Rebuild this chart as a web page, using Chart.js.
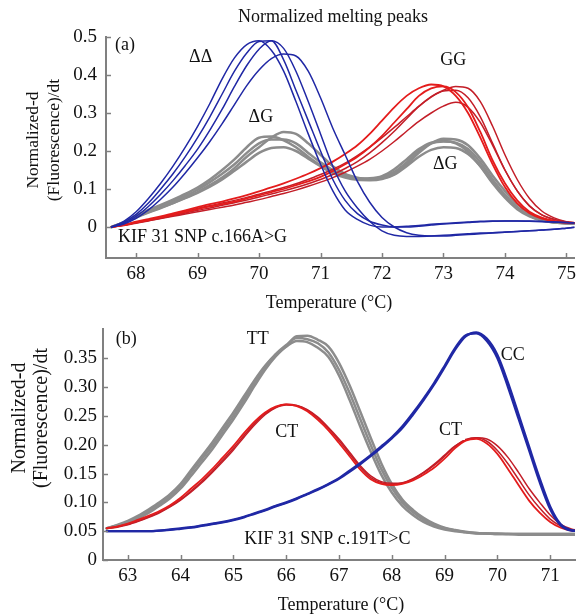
<!DOCTYPE html>
<html><head><meta charset="utf-8">
<script src="https://cdn.jsdelivr.net/npm/chart.js@4.4.0/dist/chart.umd.min.js"></script>
<style>
html,body{margin:0;padding:0;background:#fff;}
#wrap{position:relative;width:581px;height:615px;overflow:hidden;background:#fff;}
#c1{position:absolute;left:0;top:0;}
#c2{position:absolute;left:0;top:312px;}
</style></head><body>
<div id="wrap">
<canvas id="c1" width="581" height="312"></canvas>
<canvas id="c2" width="581" height="303"></canvas>
</div>
<script>
// ---------- Panel (a) data ----------
const topTemperature = [67.6,67.8,68.0,68.2,68.4,68.6,68.8,69.0,69.2,69.4,69.6,69.8,70.0,70.2,70.4,70.6,70.8,71.0,71.2,71.4,71.6,71.8,72.0,72.2,72.4,72.6,72.8,73.0,73.2,73.4,73.6,73.8,74.0,74.2,74.4,74.6,74.8,75.0,75.2];
const blueDD1 = [0.0,0.015,0.04,0.075,0.115,0.16,0.21,0.265,0.325,0.39,0.445,0.48,0.49,0.465,0.41,0.33,0.245,0.165,0.095,0.045,0.02,0.005,0.0,0.0,0.002,0.004,0.007,0.009,0.011,0.013,0.015,0.016,0.016,0.016,0.015,0.014,0.013,0.012,0.01];
const blueDD2 = [0.0,0.012,0.033,0.063,0.1,0.14,0.185,0.235,0.29,0.35,0.41,0.458,0.488,0.49,0.44,0.36,0.28,0.2,0.125,0.07,0.035,0.015,0.005,0.0,0.0,0.002,0.005,0.008,0.01,0.012,0.014,0.015,0.016,0.016,0.016,0.015,0.013,0.012,0.01];
const blueDD3 = [0.0,0.01,0.028,0.054,0.086,0.122,0.162,0.205,0.255,0.31,0.37,0.425,0.468,0.49,0.47,0.41,0.33,0.245,0.16,0.095,0.05,0.015,-0.01,-0.022,-0.025,-0.025,-0.024,-0.022,-0.02,-0.018,-0.016,-0.015,-0.013,-0.012,-0.01,-0.008,-0.006,-0.003,0.0];
const blueDD4 = [0.0,0.008,0.023,0.045,0.073,0.105,0.142,0.182,0.225,0.272,0.322,0.372,0.413,0.443,0.455,0.45,0.41,0.34,0.26,0.19,0.12,0.065,0.025,0.0,-0.015,-0.022,-0.024,-0.024,-0.022,-0.02,-0.018,-0.016,-0.014,-0.012,-0.01,-0.008,-0.006,-0.003,0.0];
const grayDG1 = [0.0,0.012,0.028,0.042,0.055,0.068,0.082,0.098,0.118,0.14,0.165,0.195,0.22,0.23,0.23,0.22,0.195,0.17,0.15,0.135,0.128,0.127,0.13,0.145,0.17,0.2,0.22,0.225,0.222,0.205,0.17,0.125,0.085,0.052,0.03,0.018,0.012,0.01,0.008];
const grayDG2 = [0.0,0.01,0.025,0.038,0.05,0.063,0.077,0.092,0.11,0.13,0.155,0.185,0.21,0.235,0.25,0.245,0.22,0.19,0.16,0.14,0.13,0.125,0.128,0.14,0.165,0.195,0.22,0.232,0.23,0.215,0.18,0.135,0.095,0.06,0.035,0.02,0.013,0.01,0.008];
const grayDG3 = [0.0,0.011,0.026,0.039,0.051,0.063,0.076,0.09,0.106,0.125,0.148,0.172,0.195,0.208,0.21,0.2,0.18,0.16,0.142,0.13,0.124,0.123,0.126,0.138,0.16,0.185,0.203,0.21,0.208,0.192,0.16,0.118,0.08,0.05,0.03,0.018,0.012,0.01,0.008];
const grayDG4 = [0.0,0.013,0.03,0.045,0.058,0.072,0.087,0.104,0.125,0.15,0.178,0.21,0.235,0.238,0.228,0.21,0.185,0.162,0.145,0.133,0.127,0.128,0.134,0.152,0.178,0.205,0.222,0.226,0.22,0.198,0.16,0.115,0.077,0.047,0.028,0.017,0.012,0.01,0.008];
const redGG1 = [0.0,0.005,0.012,0.018,0.025,0.032,0.04,0.047,0.054,0.06,0.067,0.075,0.083,0.092,0.1,0.11,0.12,0.132,0.147,0.165,0.185,0.21,0.24,0.275,0.31,0.345,0.365,0.37,0.355,0.315,0.25,0.175,0.115,0.07,0.04,0.025,0.016,0.012,0.01];
const redGG2 = [0.0,0.006,0.014,0.021,0.028,0.036,0.044,0.052,0.06,0.067,0.075,0.084,0.094,0.104,0.115,0.127,0.14,0.155,0.172,0.192,0.215,0.245,0.28,0.315,0.345,0.365,0.375,0.37,0.345,0.3,0.235,0.165,0.105,0.062,0.036,0.022,0.015,0.011,0.01];
const redGG3 = [0.0,0.005,0.011,0.017,0.023,0.03,0.037,0.044,0.05,0.057,0.064,0.071,0.079,0.087,0.095,0.104,0.114,0.125,0.138,0.154,0.172,0.195,0.222,0.252,0.285,0.317,0.342,0.358,0.36,0.34,0.29,0.22,0.15,0.095,0.055,0.032,0.02,0.013,0.01];
const redGG4 = [0.0,0.004,0.01,0.016,0.022,0.028,0.034,0.04,0.046,0.052,0.058,0.065,0.072,0.08,0.088,0.097,0.107,0.118,0.13,0.144,0.16,0.178,0.2,0.225,0.252,0.278,0.3,0.318,0.328,0.315,0.275,0.215,0.15,0.095,0.056,0.032,0.02,0.013,0.01];
const redGG5 = [0.0,0.005,0.012,0.019,0.026,0.033,0.041,0.049,0.056,0.063,0.07,0.078,0.086,0.095,0.104,0.114,0.125,0.138,0.152,0.168,0.188,0.21,0.235,0.262,0.29,0.318,0.343,0.36,0.37,0.365,0.33,0.265,0.19,0.125,0.075,0.042,0.024,0.014,0.01];
const xTicksTop = [68,69,70,71,72,73,74,75];
const yTicksTop = [0,0.1,0.2,0.3,0.4,0.5];
const yLabelsTop = ['0','0.1','0.2','0.3','0.4','0.5'];

// ---------- Panel (b) data ----------
const bottomTemperature = [62.6,62.8,63.0,63.2,63.4,63.6,63.8,64.0,64.2,64.4,64.6,64.8,65.0,65.2,65.4,65.6,65.8,66.0,66.2,66.4,66.6,66.8,67.0,67.2,67.4,67.6,67.8,68.0,68.2,68.4,68.6,68.8,69.0,69.2,69.4,69.6,69.8,70.0,70.2,70.4,70.6,70.8,71.0,71.2,71.4,71.6];
const grayTT1 = [0.055,0.06,0.066,0.075,0.085,0.097,0.11,0.128,0.152,0.175,0.198,0.224,0.25,0.278,0.308,0.335,0.357,0.373,0.385,0.383,0.376,0.36,0.33,0.29,0.245,0.2,0.158,0.125,0.1,0.083,0.07,0.061,0.055,0.051,0.048,0.047,0.046,0.046,0.045,0.045,0.045,0.045,0.045,0.045,0.045,0.045];
const grayTT2 = [0.055,0.059,0.064,0.072,0.082,0.094,0.107,0.124,0.146,0.169,0.192,0.218,0.244,0.272,0.302,0.33,0.353,0.371,0.388,0.389,0.382,0.37,0.342,0.303,0.258,0.212,0.168,0.132,0.105,0.087,0.073,0.063,0.056,0.052,0.049,0.047,0.046,0.045,0.045,0.044,0.044,0.044,0.044,0.044,0.044,0.044];
const grayTT3 = [0.055,0.061,0.068,0.077,0.088,0.1,0.114,0.132,0.156,0.18,0.204,0.23,0.256,0.284,0.312,0.337,0.356,0.37,0.38,0.378,0.368,0.352,0.32,0.278,0.232,0.188,0.148,0.117,0.094,0.078,0.066,0.058,0.053,0.05,0.048,0.046,0.046,0.045,0.045,0.045,0.045,0.045,0.045,0.045,0.045,0.045];
const redCT1 = [0.055,0.058,0.063,0.07,0.077,0.085,0.095,0.108,0.124,0.14,0.158,0.178,0.198,0.22,0.24,0.256,0.266,0.27,0.267,0.258,0.243,0.225,0.203,0.18,0.157,0.14,0.132,0.13,0.132,0.138,0.148,0.16,0.176,0.194,0.207,0.21,0.202,0.184,0.158,0.13,0.103,0.082,0.066,0.056,0.051,0.05];
const redCT2 = [0.055,0.058,0.062,0.068,0.075,0.083,0.093,0.105,0.12,0.136,0.154,0.174,0.194,0.216,0.237,0.254,0.265,0.27,0.268,0.26,0.246,0.228,0.207,0.184,0.161,0.143,0.134,0.131,0.133,0.14,0.151,0.164,0.18,0.197,0.209,0.212,0.206,0.19,0.167,0.14,0.113,0.09,0.071,0.059,0.052,0.05];
const redCT3 = [0.055,0.057,0.061,0.067,0.074,0.082,0.092,0.104,0.118,0.134,0.152,0.171,0.191,0.213,0.234,0.252,0.264,0.269,0.268,0.261,0.248,0.23,0.21,0.187,0.164,0.146,0.136,0.133,0.134,0.141,0.152,0.166,0.182,0.198,0.208,0.212,0.21,0.198,0.178,0.152,0.124,0.1,0.078,0.062,0.054,0.05];
const blueCC1 = [0.05,0.05,0.05,0.05,0.05,0.051,0.053,0.055,0.057,0.06,0.063,0.066,0.07,0.075,0.081,0.087,0.094,0.1,0.107,0.115,0.123,0.132,0.142,0.155,0.168,0.182,0.197,0.213,0.232,0.255,0.28,0.307,0.337,0.368,0.39,0.393,0.38,0.35,0.3,0.245,0.19,0.135,0.088,0.06,0.051,0.05];
const blueCC2 = [0.05,0.05,0.05,0.05,0.05,0.051,0.052,0.054,0.056,0.059,0.062,0.065,0.069,0.074,0.08,0.086,0.093,0.099,0.106,0.114,0.122,0.131,0.141,0.153,0.166,0.18,0.195,0.211,0.229,0.252,0.277,0.304,0.334,0.365,0.388,0.395,0.384,0.356,0.308,0.253,0.197,0.142,0.093,0.062,0.052,0.05];
const xTicksBottom = [63,64,65,66,67,68,69,70,71];
const yTicksBottom = [0,0.05,0.10,0.15,0.20,0.25,0.30,0.35];
const yLabelsBottom = ['0','0.05','0.10','0.15','0.20','0.25','0.30','0.35'];

// ---------- text labels (anchored in data coordinates) ----------
const topNotes = [
  {text:'(a)', x:67.82, y:0.478, box:false},
  {text:'\u0394\u0394', x:69.05, y:0.446, box:true},
  {text:'\u0394G', x:70.03, y:0.288, box:true},
  {text:'GG', x:73.16, y:0.439, box:true},
  {text:'\u0394G', x:73.03, y:0.166, box:true},
  {text:'KIF 31 SNP c.166A>G', x:69.08, y:-0.026, box:false}
];
const bottomNotes = [
  {text:'(b)', x:62.97, y:0.383, box:false},
  {text:'TT', x:65.46, y:0.383, box:true},
  {text:'CT', x:66.01, y:0.221, box:true},
  {text:'CT', x:69.11, y:0.2255, box:true},
  {text:'CC', x:70.29, y:0.356, box:false},
  {text:'KIF 31 SNP c.191T>C', x:66.78, y:0.0366, box:false}
];

// ---------- styling ----------
const FONT = "'Liberation Serif', 'Times New Roman', Times, serif";
const AXIS = '#808080';
const TXT = '#111111';
const BLUE = 'rgb(32,40,165)';
const GRAY = 'rgb(140,140,140)';
const RED = 'rgb(228,28,28)';
const DRED = 'rgb(195,30,40)';

function pts(temps, vals){ return temps.map((t,i)=>({x:t, y:vals[i]})); }
function line(temps, vals, color, width){
  return {data: pts(temps, vals), borderColor: color, borderWidth: width, pointRadius: 0,
          fill: false, cubicInterpolationMode: 'monotone', borderCapStyle:'round', borderJoinStyle:'round'};
}

const notesPlugin = {
  id: 'notes',
  afterDatasetsDraw(chart, args, opts) {
    const ctx = chart.ctx, x = chart.scales.x, y = chart.scales.y;
    ctx.save();
    ctx.font = opts.size + 'px ' + FONT;
    ctx.textAlign = 'center'; ctx.textBaseline = 'middle';
    (opts.items || []).forEach(it => {
      const px = x.getPixelForValue(it.x), py = y.getPixelForValue(it.y);
      const w = ctx.measureText(it.text).width;
      if (it.box) { ctx.fillStyle = '#fff'; ctx.fillRect(px - w/2 - 3, py - 10, w + 6, 20); }
      ctx.fillStyle = TXT; ctx.fillText(it.text, px, py);
    });
    ctx.restore();
  },
  afterDraw(chart, args, opts) {
    const ctx = chart.ctx, a = chart.chartArea, x = chart.scales.x, y = chart.scales.y;
    ctx.save();
    ctx.strokeStyle = AXIS; ctx.lineWidth = 1.5;
    x.ticks.forEach(t => { const px = Math.round(x.getPixelForValue(t.value)) + 0.5;
      ctx.beginPath(); ctx.moveTo(px, a.bottom); ctx.lineTo(px, a.bottom - 5); ctx.stroke(); });
    y.ticks.forEach(t => { const py = Math.round(y.getPixelForValue(t.value)) + 0.5;
      ctx.beginPath(); ctx.moveTo(a.left, py); ctx.lineTo(a.left + 5, py); ctx.stroke(); });
    ctx.fillStyle = TXT; ctx.textAlign = 'center'; ctx.textBaseline = 'middle';
    if (opts.title) { ctx.font = opts.title.size + 'px ' + FONT; ctx.fillText(opts.title.text, opts.title.x, opts.title.y); }
    ctx.font = opts.xTitle.size + 'px ' + FONT;
    ctx.fillText(opts.xTitle.text, opts.xTitle.x, opts.xTitle.y);
    ctx.font = opts.yTitle.size + 'px ' + FONT;
    opts.yTitle.lines.forEach((ln, i) => {
      ctx.save(); ctx.translate(opts.yTitle.xs[i], opts.yTitle.y); ctx.rotate(-Math.PI/2);
      ctx.fillText(ln, 0, 0); ctx.restore();
    });
    ctx.restore();
  }
};

function makeOptions(cfg) {
  return {
    responsive: false, animation: false, events: [],
    layout: {padding: {top: cfg.padTop, right: 6, left: 0, bottom: 0}},
    plugins: {legend: {display: false}, tooltip: {enabled: false}, title: {display: false},
      notes: {items: cfg.notes, size: 18, title: cfg.title, xTitle: cfg.xTitle, yTitle: cfg.yTitle}},
    scales: {
      x: {type: 'linear', min: cfg.xMin, max: cfg.xMax,
        afterBuildTicks: s => { s.ticks = cfg.xTicks.map(v => ({value: v})); },
        afterFit: s => { s.height = cfg.xHeight; },
        ticks: {font: {family: FONT, size: 19}, color: TXT, padding: cfg.xPad, maxRotation: 0, autoSkip: false,
          callback: v => String(v)},
        grid: {display: false, drawTicks: false, tickLength: 0},
        border: {display: true, color: AXIS, width: 2}},
      y: {type: 'linear', min: cfg.yMin, max: cfg.yMax,
        afterBuildTicks: s => { s.ticks = cfg.yTicks.map(v => ({value: v})); },
        afterFit: s => { s.width = cfg.yWidth; },
        ticks: {font: {family: FONT, size: 19}, color: TXT, padding: cfg.yPad, autoSkip: false,
          callback: (v, i) => cfg.yLabels[i]},
        grid: {display: false, drawTicks: false, tickLength: 0},
        border: {display: true, color: AXIS, width: 2}}
    }
  };
}

new Chart(document.getElementById('c1'), {
  type: 'line',
  data: {datasets: [
    line(topTemperature, blueDD1, BLUE, 1.5),
    line(topTemperature, blueDD2, BLUE, 1.5),
    line(topTemperature, blueDD3, BLUE, 1.5),
    line(topTemperature, blueDD4, BLUE, 1.5),
    line(topTemperature, redGG1, RED, 1.8),
    line(topTemperature, redGG2, RED, 1.8),
    line(topTemperature, redGG3, DRED, 1.5),
    line(topTemperature, redGG4, DRED, 1.5),
    line(topTemperature, redGG5, DRED, 1.5),
    line(topTemperature, grayDG1, GRAY, 2.5),
    line(topTemperature, grayDG2, GRAY, 2.5),
    line(topTemperature, grayDG3, GRAY, 2.5),
    line(topTemperature, grayDG4, GRAY, 2.5)
  ]},
  options: makeOptions({padTop: 37, xMin: 67.51, xMax: 75.13, yMin: -0.0816, yMax: 0.5,
    xTicks: xTicksTop, yTicks: yTicksTop, yLabels: yLabelsTop, xHeight: 54, yWidth: 106, xPad: 5, yPad: 9,
    notes: topNotes,
    title: {text: 'Normalized melting peaks', x: 333, y: 17.5, size: 18},
    xTitle: {text: 'Temperature (\u00B0C)', x: 329, y: 303, size: 18},
    yTitle: {lines: ['Normalized-d', '(Fluorescence)/dt'], xs: [33, 54], y: 140, size: 17.5}}),
  plugins: [notesPlugin]
});

new Chart(document.getElementById('c2'), {
  type: 'line',
  data: {datasets: [
    line(bottomTemperature, blueCC1, BLUE, 2.2),
    line(bottomTemperature, blueCC2, BLUE, 2.2),
    line(bottomTemperature, redCT1, RED, 1.8),
    line(bottomTemperature, redCT2, DRED, 1.5),
    line(bottomTemperature, redCT3, DRED, 1.5),
    line(bottomTemperature, grayTT1, GRAY, 2.5),
    line(bottomTemperature, grayTT2, GRAY, 2.5),
    line(bottomTemperature, grayTT3, GRAY, 2.5)
  ]},
  options: makeOptions({padTop: 13, xMin: 62.53, xMax: 71.47, yMin: 0, yMax: 0.4,
    xTicks: xTicksBottom, yTicks: yTicksBottom, yLabels: yLabelsBottom, xHeight: 55, yWidth: 103, xPad: 5, yPad: 6,
    notes: bottomNotes,
    title: null,
    xTitle: {text: 'Temperature (\u00B0C)', x: 341, y: 293, size: 18},
    yTitle: {lines: ['Normalized-d', '(Fluorescence)/dt'], xs: [19.5, 42], y: 106, size: 20}}),
  plugins: [notesPlugin]
});
</script>
</body></html>
